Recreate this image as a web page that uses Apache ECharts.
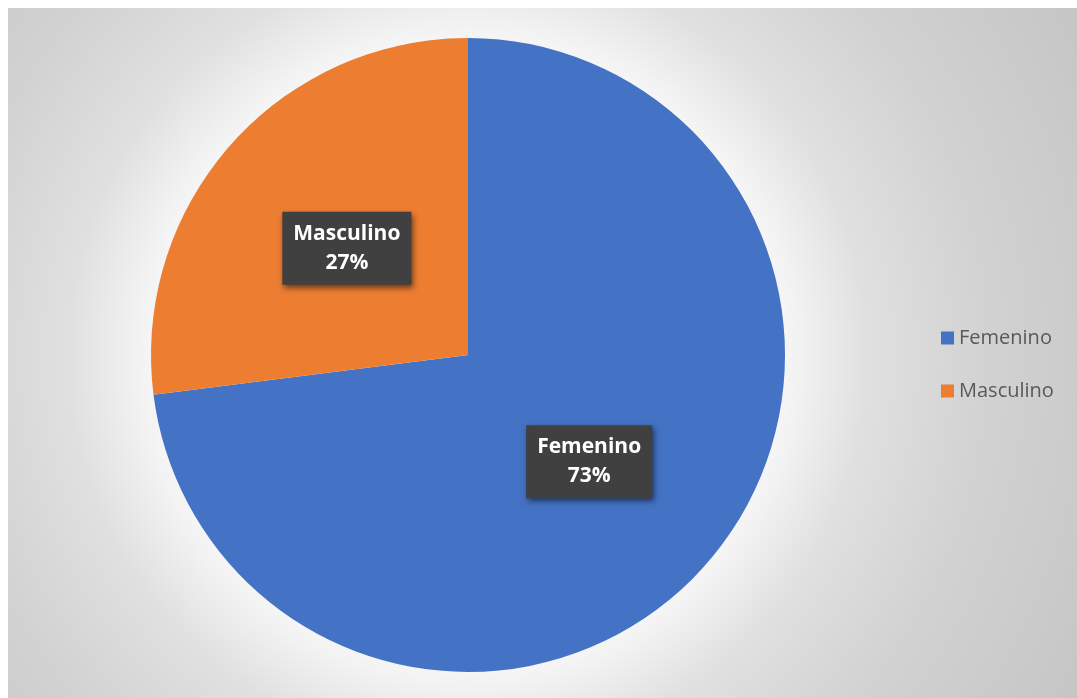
<!DOCTYPE html>
<html>
<head>
<meta charset="utf-8">
<script src="https://cdn.jsdelivr.net/npm/echarts@6/dist/echarts.min.js"></script>
<style>
  html, body { margin: 0; padding: 0; background: #ffffff; }
  #chart { width: 1077px; height: 698px; }
</style>
</head>
<body>
<div id="chart"></div>
<script>
// Gender split of respondents
const categories = ['Femenino', 'Masculino'];
const values = [73, 27];
const colors = ['#4472C4', '#ED7D31'];

const chart = echarts.init(document.getElementById('chart'), null, { renderer: 'canvas' });

chart.setOption({
  animation: false,
  backgroundColor: '#ffffff',
  graphic: [{
    type: 'rect',
    z: -10,
    silent: true,
    shape: { x: 8, y: 8, width: 1069, height: 690 },
    style: {
      fill: {
        type: 'radial',
        x: 0.4303, y: 0.503, r: 1,
        colorStops: [
          { offset: 0, color: '#ffffff' },
          { offset: 0.42, color: '#fbfbfb' },
          { offset: 0.48, color: '#f2f2f2' },
          { offset: 0.58, color: '#e0e0e0' },
          { offset: 0.75, color: '#d2d2d2' },
          { offset: 1, color: '#c6c6c6' }
        ]
      }
    }
  }],
  legend: {
    orient: 'vertical',
    left: 936,
    top: 322,
    itemWidth: 13,
    itemHeight: 13,
    itemGap: 31,
    icon: 'rect',
    data: categories,
    textStyle: {
      color: '#595959',
      fontSize: 20,
      lineHeight: 22,
      fontFamily: 'Open Sans'
    }
  },
  series: [{
    type: 'pie',
    center: [468, 355],
    radius: 317,
    startAngle: 90,
    clockwise: true,
    data: categories.map((name, i) => ({
      name: name,
      value: values[i],
      itemStyle: { color: colors[i] }
    })),
    label: {
      show: true,
      position: 'inside',
      formatter: '{b}\n{d}%',
      color: '#ffffff',
      fontSize: 21,
      fontWeight: 'bold',
      fontFamily: 'Open Sans',
      lineHeight: 29,
      backgroundColor: '#404040',
      padding: [8, 11, 7, 11],
      shadowColor: 'rgba(0,0,0,0.55)',
      shadowBlur: 6,
      shadowOffsetX: 2,
      shadowOffsetY: 3
    },
    labelLine: { show: false },
    emphasis: { disabled: true }
  }]
});
</script>
</body>
</html>
